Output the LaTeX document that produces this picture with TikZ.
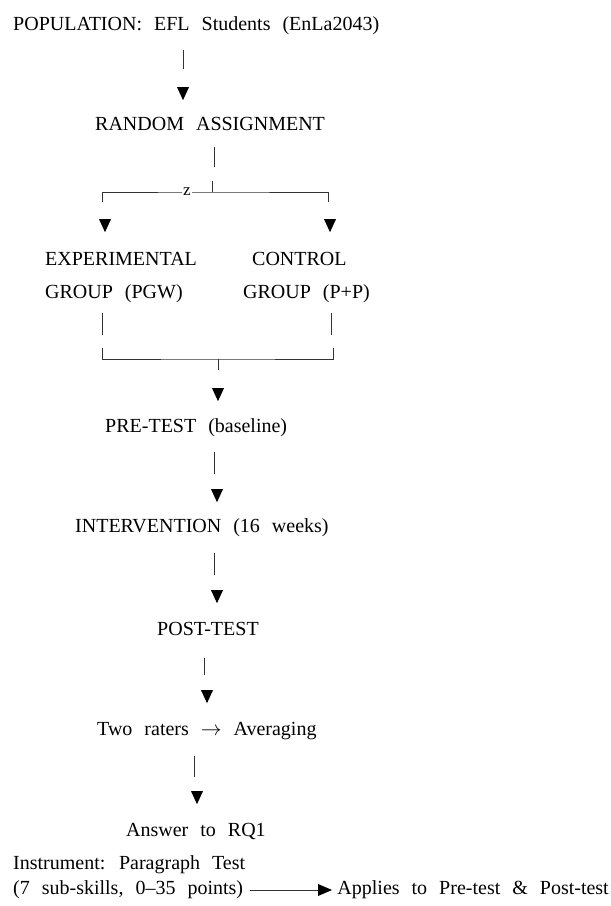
\documentclass[tikz,border=0pt]{standalone}
\usepackage{fontspec}
\setmainfont{Liberation Serif}[WordSpace=2.4]
\usetikzlibrary{shapes.geometric}

\tikzset{
  txt/.style={inner sep=0pt, anchor=base west, text height=13pt, text depth=4pt,
    font=\fontsize{20}{24}\selectfont},
  stem/.style={draw=black!80, line width=1pt},
  tip/.style={isosceles triangle, isosceles triangle stretches, shape border rotate=-90,
    fill=black, inner sep=0pt, minimum width=12pt, minimum height=13pt},
  tipr/.style={isosceles triangle, isosceles triangle stretches,
    fill=black, inner sep=0pt, minimum width=12pt, minimum height=14pt},
  zlbl/.style={fill=white, inner sep=1pt, font=\fontsize{17}{19}\selectfont}
}

\begin{document}
\begin{tikzpicture}[x=1pt,y=-1pt]
\useasboundingbox (0,0) rectangle (611,906);

% texts
\node[txt] (pop) at (13,30) {POPULATION: EFL Students (EnLa2043)};
\node[txt] (rand) at (95,130) {RANDOM ASSIGNMENT};
\node[txt] (exp1) at (45,265) {EXPERIMENTAL};
\node[txt] (exp2) at (45,298) {GROUP (PGW)};
\node[txt] (ctl1) at (252,265) {CONTROL};
\node[txt] (ctl2) at (243,298) {GROUP (P+P)};
\node[txt] (pre) at (105,432) {PRE-TEST (baseline)};
\node[txt] (int) at (75,532) {INTERVENTION (16 weeks)};
\node[txt] (post) at (157,635) {POST-TEST};
\node[txt] (rate) at (97,735) {Two raters $\rightarrow$ Averaging};
\node[txt] (rq) at (126,836) {Answer to RQ1};
\node[txt] (inst) at (13,869) {Instrument: Paragraph Test};
\node[txt] (pts) at (13,894) {(7 sub-skills, 0--35 points)};
\node[txt,anchor=base east] (app) at (609,894) {Applies to Pre-test \& Post-test};

% arrow heads
\node[tip] (t1) at (183,91) {};
\node[tip] (t2) at (105,223) {};
\node[tip] (t3) at (330,223) {};
\node[tip] (t4) at (218,392) {};
\node[tip] (t5) at (217,493) {};
\node[tip] (t6) at (217,594) {};
\node[tip] (t7) at (207,694) {};
\node[tip] (t8) at (197,795) {};
\node[tipr] (t9) at (322,890) {};

% stems
\draw[stem] (t1.north) ++(0,-18) -- ++(0,-19);
\draw[stem] (t5.north) ++(-3,-15) -- ++(0,-22);
\draw[stem] (t6.north) ++(-3,-15) -- ++(0,-22);
\draw[stem] (t7.north) ++(-3,-15) -- ++(0,-17);
\draw[stem] (t8.north) ++(-3,-14) -- ++(0,-21);

% split after assignment
\coordinate (fk) at (212,192);
\coordinate (fl) at (102,202);
\coordinate (fr) at (328,202);
\draw[stem] (rand.south -| fk) ++(2,13) -- ++(0,20);
\draw[stem] (fk) -- ++(0,-11);
\draw[stem] (fl) |- (fk) -| (fr);
\node[zlbl] (z) at (187,192) {z};

% join after groups
\coordinate (jn) at (218,359);
\coordinate (jl) at (102,348);
\coordinate (jr) at (333,348);
\draw[stem] (exp2.south -| jl) ++(0,11) -- ++(0,22);
\draw[stem] (ctl2.south -| jr) ++(-2,11) -- ++(0,22);
\draw[stem] (jl) |- (jn) -| (jr);
\draw[stem] (jn) -- ++(0,11);

% instrument arrow
\draw[stem] (pts.east |- t9) ++(7,0) -- (t9.west);
\end{tikzpicture}
\end{document}
